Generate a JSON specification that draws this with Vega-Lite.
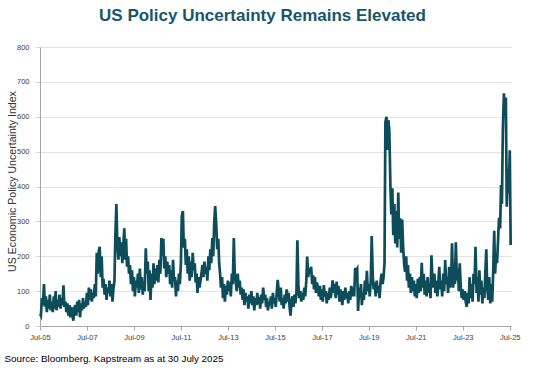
{
"$schema": "https://vega.github.io/schema/vega-lite/v6.json",
"width": 471, "height": 279,
"autosize": {"type": "none"},
"padding": {"left": 40, "top": 47, "right": 23, "bottom": 42},
"background": "white",
"title": {"text": "US Policy Uncertainty Remains Elevated", "font": "Liberation Sans", "fontSize": 17, "fontWeight": "bold", "color": "#17566a", "anchor": "middle", "frame": "group", "dx": -13, "offset": 18},
"config": {"view": {"stroke": null}, "font": "Liberation Sans"},
"data": {"values": [
{"date":"2005-07-01","value":35},{"date":"2005-07-15","value":30},{"date":"2005-08-01","value":80},{"date":"2005-08-15","value":60},{"date":"2005-09-01","value":120},{"date":"2005-09-15","value":55},{"date":"2005-10-01","value":85},{"date":"2005-10-15","value":40},{"date":"2005-11-01","value":75},{"date":"2005-11-15","value":50},{"date":"2005-12-01","value":90},{"date":"2005-12-15","value":45},
{"date":"2006-01-01","value":70},{"date":"2006-01-15","value":40},{"date":"2006-02-01","value":85},{"date":"2006-02-15","value":50},{"date":"2006-03-01","value":100},{"date":"2006-03-15","value":45},{"date":"2006-04-01","value":75},{"date":"2006-04-15","value":55},{"date":"2006-05-01","value":90},{"date":"2006-05-15","value":50},{"date":"2006-06-01","value":80},{"date":"2006-06-15","value":60},{"date":"2006-07-01","value":117},{"date":"2006-07-15","value":55},{"date":"2006-08-01","value":70},{"date":"2006-08-15","value":40},{"date":"2006-09-01","value":65},{"date":"2006-09-15","value":30},{"date":"2006-10-01","value":60},{"date":"2006-10-15","value":25},{"date":"2006-11-01","value":55},{"date":"2006-11-15","value":35},{"date":"2006-12-01","value":15},{"date":"2006-12-15","value":50},
{"date":"2007-01-01","value":60},{"date":"2007-01-15","value":30},{"date":"2007-02-01","value":70},{"date":"2007-02-15","value":40},{"date":"2007-03-01","value":75},{"date":"2007-03-15","value":25},{"date":"2007-04-01","value":65},{"date":"2007-04-15","value":45},{"date":"2007-05-01","value":80},{"date":"2007-05-15","value":50},{"date":"2007-06-01","value":70},{"date":"2007-06-15","value":55},{"date":"2007-07-01","value":95},{"date":"2007-07-15","value":60},{"date":"2007-08-01","value":110},{"date":"2007-08-15","value":75},{"date":"2007-09-01","value":105},{"date":"2007-09-15","value":70},{"date":"2007-10-01","value":95},{"date":"2007-10-15","value":80},{"date":"2007-11-01","value":120},{"date":"2007-11-15","value":85},{"date":"2007-12-01","value":210},{"date":"2007-12-15","value":150},
{"date":"2008-01-01","value":215},{"date":"2008-01-15","value":227},{"date":"2008-02-01","value":140},{"date":"2008-02-15","value":200},{"date":"2008-03-01","value":110},{"date":"2008-03-15","value":135},{"date":"2008-04-01","value":90},{"date":"2008-04-15","value":120},{"date":"2008-05-01","value":75},{"date":"2008-05-15","value":110},{"date":"2008-06-01","value":95},{"date":"2008-06-15","value":130},{"date":"2008-07-01","value":85},{"date":"2008-07-15","value":120},{"date":"2008-08-01","value":70},{"date":"2008-08-15","value":105},{"date":"2008-09-01","value":130},{"date":"2008-09-15","value":260},{"date":"2008-10-01","value":350},{"date":"2008-10-15","value":240},{"date":"2008-11-01","value":190},{"date":"2008-11-15","value":255},{"date":"2008-12-01","value":200},{"date":"2008-12-15","value":240},
{"date":"2009-01-01","value":180},{"date":"2009-01-15","value":230},{"date":"2009-02-01","value":280},{"date":"2009-02-15","value":190},{"date":"2009-03-01","value":250},{"date":"2009-03-15","value":170},{"date":"2009-04-01","value":200},{"date":"2009-04-15","value":150},{"date":"2009-05-01","value":175},{"date":"2009-05-15","value":120},{"date":"2009-06-01","value":160},{"date":"2009-06-15","value":100},{"date":"2009-07-01","value":140},{"date":"2009-07-15","value":85},{"date":"2009-08-01","value":130},{"date":"2009-08-15","value":110},{"date":"2009-09-01","value":150},{"date":"2009-09-15","value":95},{"date":"2009-10-01","value":165},{"date":"2009-10-15","value":105},{"date":"2009-11-01","value":140},{"date":"2009-11-15","value":90},{"date":"2009-12-01","value":125},{"date":"2009-12-15","value":100},
{"date":"2010-01-01","value":223},{"date":"2010-01-15","value":150},{"date":"2010-02-01","value":185},{"date":"2010-02-15","value":100},{"date":"2010-03-01","value":160},{"date":"2010-03-15","value":75},{"date":"2010-04-01","value":150},{"date":"2010-04-15","value":110},{"date":"2010-05-01","value":180},{"date":"2010-05-15","value":120},{"date":"2010-06-01","value":165},{"date":"2010-06-15","value":130},{"date":"2010-07-01","value":175},{"date":"2010-07-15","value":125},{"date":"2010-08-01","value":190},{"date":"2010-08-15","value":150},{"date":"2010-09-01","value":252},{"date":"2010-09-15","value":200},{"date":"2010-10-01","value":250},{"date":"2010-10-15","value":165},{"date":"2010-11-01","value":200},{"date":"2010-11-15","value":140},{"date":"2010-12-01","value":185},{"date":"2010-12-15","value":150},
{"date":"2011-01-01","value":175},{"date":"2011-01-15","value":120},{"date":"2011-02-01","value":160},{"date":"2011-02-15","value":110},{"date":"2011-03-01","value":190},{"date":"2011-03-15","value":130},{"date":"2011-04-01","value":140},{"date":"2011-04-15","value":85},{"date":"2011-05-01","value":130},{"date":"2011-05-15","value":100},{"date":"2011-06-01","value":150},{"date":"2011-06-15","value":120},{"date":"2011-07-01","value":180},{"date":"2011-07-15","value":315},{"date":"2011-08-01","value":330},{"date":"2011-08-15","value":225},{"date":"2011-09-01","value":250},{"date":"2011-09-15","value":175},{"date":"2011-10-01","value":220},{"date":"2011-10-15","value":150},{"date":"2011-11-01","value":200},{"date":"2011-11-15","value":130},{"date":"2011-12-01","value":185},{"date":"2011-12-15","value":140},
{"date":"2012-01-01","value":210},{"date":"2012-01-15","value":160},{"date":"2012-02-01","value":180},{"date":"2012-02-15","value":125},{"date":"2012-03-01","value":150},{"date":"2012-03-15","value":95},{"date":"2012-04-01","value":140},{"date":"2012-04-15","value":110},{"date":"2012-05-01","value":130},{"date":"2012-05-15","value":150},{"date":"2012-06-01","value":175},{"date":"2012-06-15","value":140},{"date":"2012-07-01","value":185},{"date":"2012-07-15","value":150},{"date":"2012-08-01","value":170},{"date":"2012-08-15","value":130},{"date":"2012-09-01","value":200},{"date":"2012-09-15","value":160},{"date":"2012-10-01","value":220},{"date":"2012-10-15","value":180},{"date":"2012-11-01","value":252},{"date":"2012-11-15","value":200},{"date":"2012-12-01","value":300},{"date":"2012-12-15","value":344},
{"date":"2013-01-01","value":290},{"date":"2013-01-15","value":220},{"date":"2013-02-01","value":250},{"date":"2013-02-15","value":180},{"date":"2013-03-01","value":150},{"date":"2013-03-15","value":110},{"date":"2013-04-01","value":140},{"date":"2013-04-15","value":80},{"date":"2013-05-01","value":120},{"date":"2013-05-15","value":70},{"date":"2013-06-01","value":115},{"date":"2013-06-15","value":90},{"date":"2013-07-01","value":130},{"date":"2013-07-15","value":100},{"date":"2013-08-01","value":125},{"date":"2013-08-15","value":85},{"date":"2013-09-01","value":150},{"date":"2013-09-15","value":120},{"date":"2013-10-01","value":252},{"date":"2013-10-15","value":150},{"date":"2013-11-01","value":125},{"date":"2013-11-15","value":100},{"date":"2013-12-01","value":150},{"date":"2013-12-15","value":110},
{"date":"2014-01-01","value":130},{"date":"2014-01-15","value":90},{"date":"2014-02-01","value":110},{"date":"2014-02-15","value":75},{"date":"2014-03-01","value":105},{"date":"2014-03-15","value":60},{"date":"2014-04-01","value":95},{"date":"2014-04-15","value":70},{"date":"2014-05-01","value":85},{"date":"2014-05-15","value":50},{"date":"2014-06-01","value":90},{"date":"2014-06-15","value":65},{"date":"2014-07-01","value":100},{"date":"2014-07-15","value":60},{"date":"2014-08-01","value":85},{"date":"2014-08-15","value":45},{"date":"2014-09-01","value":80},{"date":"2014-09-15","value":60},{"date":"2014-10-01","value":95},{"date":"2014-10-15","value":70},{"date":"2014-11-01","value":75},{"date":"2014-11-15","value":50},{"date":"2014-12-01","value":90},{"date":"2014-12-15","value":65},
{"date":"2015-01-01","value":110},{"date":"2015-01-15","value":75},{"date":"2015-02-01","value":90},{"date":"2015-02-15","value":55},{"date":"2015-03-01","value":80},{"date":"2015-03-15","value":45},{"date":"2015-04-01","value":70},{"date":"2015-04-15","value":60},{"date":"2015-05-01","value":85},{"date":"2015-05-15","value":50},{"date":"2015-06-01","value":95},{"date":"2015-06-15","value":65},{"date":"2015-07-01","value":80},{"date":"2015-07-15","value":55},{"date":"2015-08-01","value":100},{"date":"2015-08-15","value":132},{"date":"2015-09-01","value":95},{"date":"2015-09-15","value":70},{"date":"2015-10-01","value":110},{"date":"2015-10-15","value":60},{"date":"2015-11-01","value":80},{"date":"2015-11-15","value":50},{"date":"2015-12-01","value":90},{"date":"2015-12-15","value":65},
{"date":"2016-01-01","value":105},{"date":"2016-01-15","value":70},{"date":"2016-02-01","value":95},{"date":"2016-02-15","value":55},{"date":"2016-03-01","value":30},{"date":"2016-03-15","value":70},{"date":"2016-04-01","value":85},{"date":"2016-04-15","value":55},{"date":"2016-05-01","value":90},{"date":"2016-05-15","value":65},{"date":"2016-06-01","value":95},{"date":"2016-06-15","value":246},{"date":"2016-07-01","value":120},{"date":"2016-07-15","value":80},{"date":"2016-08-01","value":100},{"date":"2016-08-15","value":70},{"date":"2016-09-01","value":95},{"date":"2016-09-15","value":75},{"date":"2016-10-01","value":110},{"date":"2016-10-15","value":85},{"date":"2016-11-01","value":130},{"date":"2016-11-15","value":199},{"date":"2016-12-01","value":140},{"date":"2016-12-15","value":165},
{"date":"2017-01-01","value":150},{"date":"2017-01-15","value":170},{"date":"2017-02-01","value":120},{"date":"2017-02-15","value":145},{"date":"2017-03-01","value":105},{"date":"2017-03-15","value":140},{"date":"2017-04-01","value":95},{"date":"2017-04-15","value":125},{"date":"2017-05-01","value":110},{"date":"2017-05-15","value":85},{"date":"2017-06-01","value":115},{"date":"2017-06-15","value":75},{"date":"2017-07-01","value":105},{"date":"2017-07-15","value":70},{"date":"2017-08-01","value":117},{"date":"2017-08-15","value":85},{"date":"2017-09-01","value":100},{"date":"2017-09-15","value":65},{"date":"2017-10-01","value":95},{"date":"2017-10-15","value":75},{"date":"2017-11-01","value":110},{"date":"2017-11-15","value":80},{"date":"2017-12-01","value":100},{"date":"2017-12-15","value":131},
{"date":"2018-01-01","value":95},{"date":"2018-01-15","value":120},{"date":"2018-02-01","value":80},{"date":"2018-02-15","value":127},{"date":"2018-03-01","value":90},{"date":"2018-03-15","value":115},{"date":"2018-04-01","value":70},{"date":"2018-04-15","value":105},{"date":"2018-05-01","value":85},{"date":"2018-05-15","value":60},{"date":"2018-06-01","value":100},{"date":"2018-06-15","value":75},{"date":"2018-07-01","value":110},{"date":"2018-07-15","value":80},{"date":"2018-08-01","value":95},{"date":"2018-08-15","value":65},{"date":"2018-09-01","value":100},{"date":"2018-09-15","value":75},{"date":"2018-10-01","value":115},{"date":"2018-10-15","value":85},{"date":"2018-11-01","value":110},{"date":"2018-11-15","value":85},{"date":"2018-12-01","value":166},{"date":"2018-12-15","value":160},
{"date":"2019-01-01","value":165},{"date":"2019-01-15","value":43},{"date":"2019-02-01","value":110},{"date":"2019-02-15","value":80},{"date":"2019-03-01","value":120},{"date":"2019-03-15","value":60},{"date":"2019-04-01","value":95},{"date":"2019-04-15","value":75},{"date":"2019-05-01","value":130},{"date":"2019-05-15","value":90},{"date":"2019-06-01","value":158},{"date":"2019-06-15","value":100},{"date":"2019-07-01","value":120},{"date":"2019-07-15","value":85},{"date":"2019-08-01","value":130},{"date":"2019-08-15","value":258},{"date":"2019-09-01","value":140},{"date":"2019-09-15","value":105},{"date":"2019-10-01","value":125},{"date":"2019-10-15","value":85},{"date":"2019-11-01","value":130},{"date":"2019-11-15","value":95},{"date":"2019-12-01","value":115},{"date":"2019-12-15","value":80},
{"date":"2020-01-01","value":130},{"date":"2020-01-15","value":150},{"date":"2020-02-01","value":120},{"date":"2020-02-15","value":140},{"date":"2020-03-01","value":180},{"date":"2020-03-15","value":585},{"date":"2020-04-01","value":600},{"date":"2020-04-15","value":505},{"date":"2020-05-01","value":590},{"date":"2020-05-15","value":560},{"date":"2020-06-01","value":400},{"date":"2020-06-15","value":320},{"date":"2020-07-01","value":395},{"date":"2020-07-15","value":260},{"date":"2020-08-01","value":350},{"date":"2020-08-15","value":237},{"date":"2020-09-01","value":330},{"date":"2020-09-15","value":225},{"date":"2020-10-01","value":383},{"date":"2020-10-15","value":250},{"date":"2020-11-01","value":309},{"date":"2020-11-15","value":210},{"date":"2020-12-01","value":305},{"date":"2020-12-15","value":230},
{"date":"2021-01-01","value":175},{"date":"2021-01-15","value":155},{"date":"2021-02-01","value":200},{"date":"2021-02-15","value":130},{"date":"2021-03-01","value":175},{"date":"2021-03-15","value":110},{"date":"2021-04-01","value":150},{"date":"2021-04-15","value":95},{"date":"2021-05-01","value":140},{"date":"2021-05-15","value":100},{"date":"2021-06-01","value":130},{"date":"2021-06-15","value":85},{"date":"2021-07-01","value":120},{"date":"2021-07-15","value":80},{"date":"2021-08-01","value":135},{"date":"2021-08-15","value":95},{"date":"2021-09-01","value":140},{"date":"2021-09-15","value":100},{"date":"2021-10-01","value":181},{"date":"2021-10-15","value":110},{"date":"2021-11-01","value":150},{"date":"2021-11-15","value":90},{"date":"2021-12-01","value":130},{"date":"2021-12-15","value":85},
{"date":"2022-01-01","value":140},{"date":"2022-01-15","value":95},{"date":"2022-02-01","value":120},{"date":"2022-02-15","value":80},{"date":"2022-03-01","value":203},{"date":"2022-03-15","value":140},{"date":"2022-04-01","value":110},{"date":"2022-04-15","value":150},{"date":"2022-05-01","value":95},{"date":"2022-05-15","value":130},{"date":"2022-06-01","value":85},{"date":"2022-06-15","value":120},{"date":"2022-07-01","value":170},{"date":"2022-07-15","value":105},{"date":"2022-08-01","value":130},{"date":"2022-08-15","value":85},{"date":"2022-09-01","value":150},{"date":"2022-09-15","value":100},{"date":"2022-10-01","value":189},{"date":"2022-10-15","value":120},{"date":"2022-11-01","value":140},{"date":"2022-11-15","value":95},{"date":"2022-12-01","value":170},{"date":"2022-12-15","value":110},
{"date":"2023-01-01","value":130},{"date":"2023-01-15","value":237},{"date":"2023-02-01","value":110},{"date":"2023-02-15","value":175},{"date":"2023-03-01","value":120},{"date":"2023-03-15","value":240},{"date":"2023-04-01","value":130},{"date":"2023-04-15","value":165},{"date":"2023-05-01","value":100},{"date":"2023-05-15","value":180},{"date":"2023-06-01","value":110},{"date":"2023-06-15","value":80},{"date":"2023-07-01","value":105},{"date":"2023-07-15","value":75},{"date":"2023-08-01","value":100},{"date":"2023-08-15","value":70},{"date":"2023-09-01","value":55},{"date":"2023-09-15","value":95},{"date":"2023-10-01","value":65},{"date":"2023-10-15","value":140},{"date":"2023-11-01","value":80},{"date":"2023-11-15","value":120},{"date":"2023-12-01","value":70},{"date":"2023-12-15","value":150},
{"date":"2024-01-01","value":120},{"date":"2024-01-15","value":227},{"date":"2024-02-01","value":95},{"date":"2024-02-15","value":140},{"date":"2024-03-01","value":70},{"date":"2024-03-15","value":160},{"date":"2024-04-01","value":90},{"date":"2024-04-15","value":130},{"date":"2024-05-01","value":65},{"date":"2024-05-15","value":110},{"date":"2024-06-01","value":80},{"date":"2024-06-15","value":150},{"date":"2024-07-01","value":220},{"date":"2024-07-15","value":110},{"date":"2024-08-01","value":75},{"date":"2024-08-15","value":140},{"date":"2024-09-01","value":65},{"date":"2024-09-15","value":120},{"date":"2024-10-01","value":70},{"date":"2024-10-15","value":150},{"date":"2024-11-01","value":273},{"date":"2024-11-15","value":150},{"date":"2024-12-01","value":210},{"date":"2024-12-15","value":180},
{"date":"2025-01-01","value":250},{"date":"2025-01-15","value":310},{"date":"2025-02-01","value":280},{"date":"2025-02-15","value":404},{"date":"2025-03-01","value":350},{"date":"2025-03-15","value":560},{"date":"2025-04-01","value":667},{"date":"2025-04-15","value":600},{"date":"2025-05-01","value":655},{"date":"2025-05-15","value":342},{"date":"2025-06-01","value":450},{"date":"2025-06-15","value":380},{"date":"2025-07-01","value":504},{"date":"2025-07-15","value":232}
]},
"mark": {"type": "line", "color": "#0d4d5a", "strokeWidth": 2.7},
"encoding": {
  "x": {"field": "date", "type": "temporal",
    "scale": {"type": "utc", "domain": [{"year": 2005, "month": 7, "date": 1, "utc": true}, {"year": 2025, "month": 7, "date": 20, "utc": true}]},
    "axis": {"values": [{"year": 2005, "month": 7, "date": 1, "utc": true}, {"year": 2007, "month": 7, "date": 1, "utc": true}, {"year": 2009, "month": 7, "date": 1, "utc": true}, {"year": 2011, "month": 7, "date": 1, "utc": true}, {"year": 2013, "month": 7, "date": 1, "utc": true}, {"year": 2015, "month": 7, "date": 1, "utc": true}, {"year": 2017, "month": 7, "date": 1, "utc": true}, {"year": 2019, "month": 7, "date": 1, "utc": true}, {"year": 2021, "month": 7, "date": 1, "utc": true}, {"year": 2023, "month": 7, "date": 1, "utc": true}, {"year": 2025, "month": 7, "date": 1, "utc": true}],
      "format": "%b-%y", "grid": false, "domainColor": "#a6a6a6", "tickColor": "#a6a6a6", "tickSize": 4,
      "labelFont": "Liberation Sans", "labelFontSize": 7.5, "labelColor": "#404040", "labelPadding": 3, "labelOverlap": false, "labelFlush": false,
      "title": "Source: Bloomberg. Kapstream as at 30 July 2025", "titleFont": "Liberation Sans", "titleFontSize": 9.8, "titleFontWeight": "normal", "titleColor": "#000000",
      "titleAnchor": "start", "titleAlign": "left", "titleX": -36, "titleY": 35, "titleBaseline": "alphabetic"}},
  "y": {"field": "value", "type": "quantitative",
    "scale": {"domain": [0, 800]},
    "axis": {"values": [0, 100, 200, 300, 400, 500, 600, 700, 800], "grid": true, "gridColor": "#e4e4e4", "domainColor": "#a6a6a6", "tickColor": "#d0d0d0", "tickSize": 4, "labelPadding": 7,
      "labelFont": "Liberation Sans", "labelFontSize": 7.5, "labelColor": "#404040",
      "title": "US Economic Policy Uncertainty Index", "titleFont": "Liberation Sans", "titleFontSize": 10.6, "titleFontWeight": "normal", "titleColor": "#333333",
      "titleAngle": -90, "titleX": -28, "titleY": 134, "titleAlign": "center", "titleBaseline": "middle"}}
}
}
